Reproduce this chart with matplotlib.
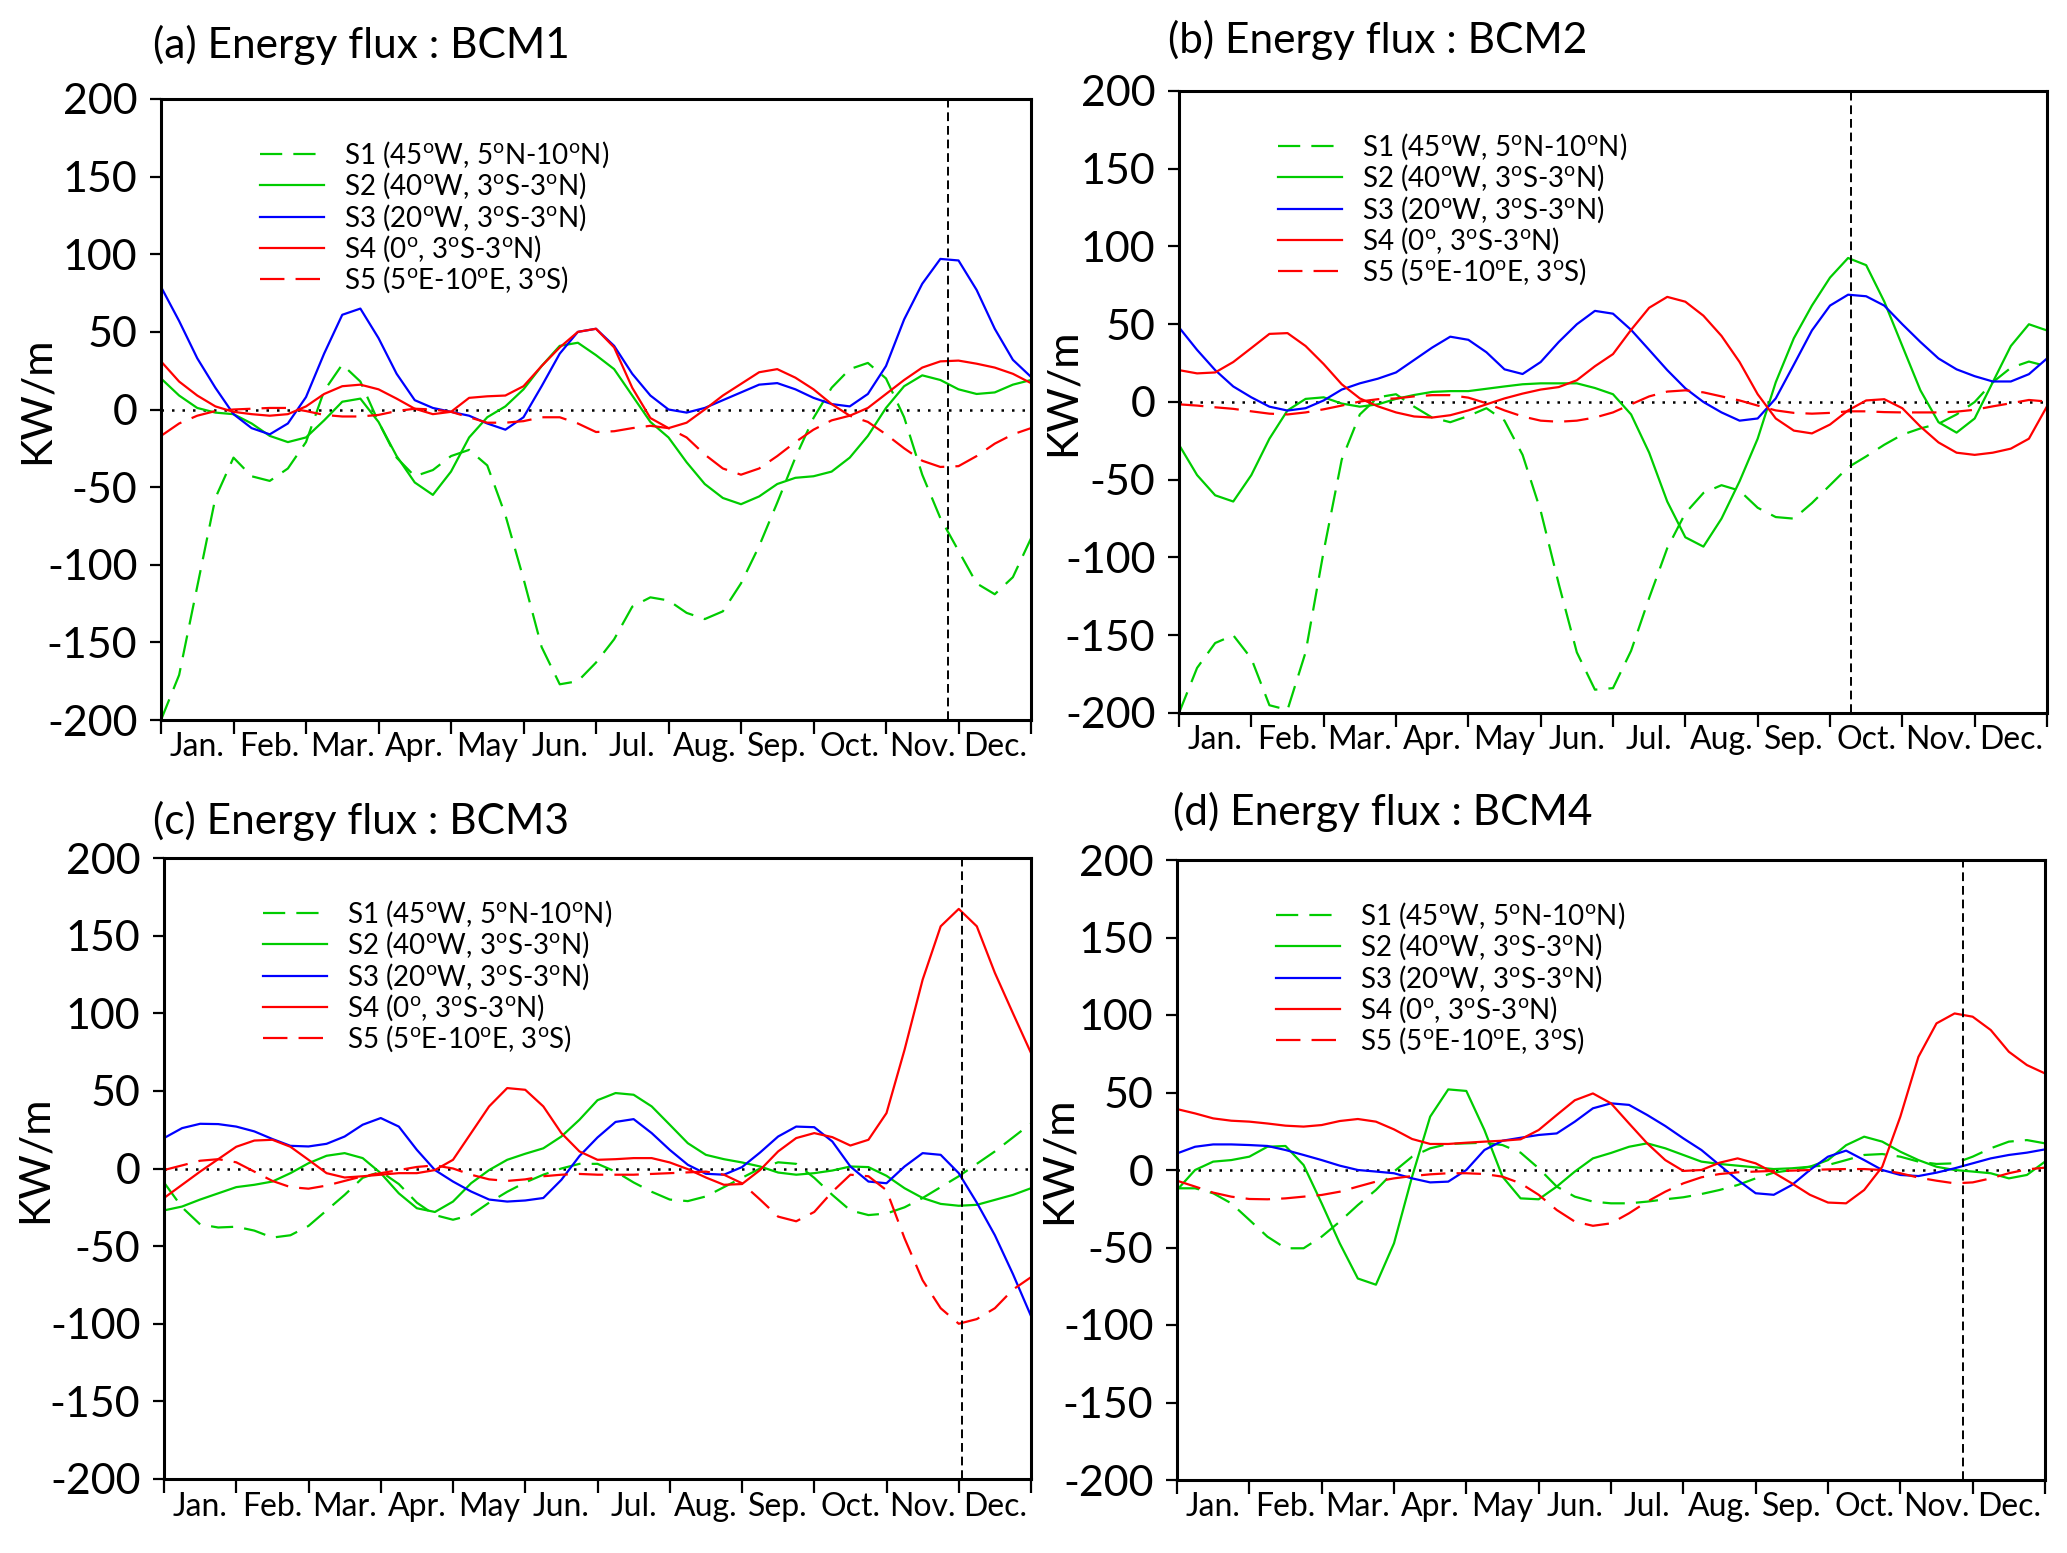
import numpy as np
import matplotlib
matplotlib.use('Agg')
import matplotlib.pyplot as plt

plt.rcParams['font.family'] = ['Lato', 'DejaVu Sans']
plt.rcParams['mathtext.fontset'] = 'custom'
plt.rcParams['mathtext.rm'] = 'Lato'
plt.rcParams['mathtext.it'] = 'Lato:italic'
plt.rcParams['mathtext.bf'] = 'Lato:bold'

# ---------------- data ----------------
months = ['Jan.', 'Feb.', 'Mar.', 'Apr.', 'May', 'Jun.', 'Jul.', 'Aug.',
          'Sep.', 'Oct.', 'Nov.', 'Dec.']
t = np.arange(49) * 0.25          # time in months (0 = 1 Jan, 12 = 31 Dec)
yticks = [-200, -150, -100, -50, 0, 50, 100, 150, 200]

labels = [r'S1 (45$^{\rm o}$W, 5$^{\rm o}$N-10$^{\rm o}$N)',
          r'S2 (40$^{\rm o}$W, 3$^{\rm o}$S-3$^{\rm o}$N)',
          r'S3 (20$^{\rm o}$W, 3$^{\rm o}$S-3$^{\rm o}$N)',
          r'S4 (0$^{\rm o}$, 3$^{\rm o}$S-3$^{\rm o}$N)',
          r'S5 (5$^{\rm o}$E-10$^{\rm o}$E, 3$^{\rm o}$S)']

titles = ['(a) Energy flux : BCM1', '(b) Energy flux : BCM2',
          '(c) Energy flux : BCM3', '(d) Energy flux : BCM4']
event_month = [10.86, 9.29, 11.04, 10.86]

# Panel (a) BCM1
a_s1 = [-200, -171, -114, -57, -31, -43, -46, -38, -21, 12,
        29, 18, -8, -31, -43, -39, -30, -26, -36, -68,
        -109, -153, -177, -175, -163, -148, -127, -121, -123, -131,
        -135, -130, -112, -88, -60, -31, -5.5, 14, 26, 30,
        20, -5, -42, -70, -91, -112, -119, -108, -83]
a_s2 = [20, 9, 1, -2, -3, -9, -17, -21, -18, -7,
        5, 7, -8, -30, -47, -55, -40, -18, -5, 2,
        13, 28, 41, 43, 35, 26, 9, -8, -18, -34,
        -48, -57, -61, -56, -48, -44, -43, -40, -31, -17,
        1, 15, 22, 19, 13, 10, 11, 16, 19]
a_s3 = [79, 57, 33, 14, -3, -12, -16, -9, 8, 36,
        61, 65, 46, 23, 6, 1, -1.5, -4, -9, -13,
        -5, 15, 36, 50, 52, 41, 23, 9, 0, -2,
        1, 6, 11, 16, 17, 13, 7.5, 3.5, 2, 10,
        28, 58, 81, 97, 96, 77, 52, 32, 21]
a_s4 = [31, 18, 9, 2, -1.5, -3, -4, -3, 2, 10,
        15, 16, 13, 7, 0.5, -3, -1.5, 7.5, 8.5, 9,
        15, 28, 40, 50, 52, 40, 14, -5.5, -12, -8.5,
        0, 9, 16.5, 24, 26, 20.5, 13, 3.5, -4, 1,
        10, 19, 27, 31, 31.5, 29.5, 27, 23, 17]
a_s5 = [-17, -9, -4, -1, 0, 0.5, 1, 1, -1, -3.5,
        -4.5, -4.5, -3.5, -1, 0.5, 0, -1.5, -5, -8.5, -8.5,
        -7.5, -5, -5, -9, -14.5, -14, -12, -10.5, -12, -18,
        -29, -38, -42, -38, -30, -21, -13, -7, -4, -8,
        -16, -25, -33, -37, -36.5, -30, -22, -16, -12]

# Panel (b) BCM2
b_s1 = [-200, -171, -155, -150, -165, -195, -198, -161, -96, -37,
        -8, 3, 5, -3, -10, -13, -9, -4, -12, -34,
        -70, -117, -161, -185, -184, -160, -126, -94, -71.5, -58.5,
        -53.5, -57, -68, -74, -75, -65, -53.5, -42, -35, -27.5,
        -21, -17, -14, -8, 0, 12.7, 22, 26, 23]
b_s2 = [-27.5, -47, -60, -64, -47, -23.6, -5.4, 2, 3, -1,
        -3, -1.5, 2, 4.5, 6.5, 7, 7, 8.5, 10, 11.4,
        12, 12, 12, 9, 5, -8, -32.6, -64, -87, -93,
        -75, -51, -23.6, 12.7, 41, 62, 80, 92.6, 88, 64.6,
        36, 7.5, -13, -19.7, -10.6, 12.7, 36, 50, 46]
b_s3 = [48, 33.5, 20.5, 10, 3, -3, -5.5, -4, 1, 8,
        12, 15, 19, 27, 35, 42, 40, 32, 21, 18,
        25.7, 38.6, 50, 58.6, 56.8, 46.4, 33.5, 20.5, 8.8, 0,
        -6.7, -12, -10.6, 2.3, 24, 46, 62, 69, 68, 62,
        50, 38.6, 28, 21, 16.6, 13.2, 13.2, 17.9, 28]
b_s4 = [20.5, 18.4, 19, 25.7, 34.7, 43.8, 44.3, 36, 24.4, 11.4,
        2.3, -2.8, -6.7, -9.3, -10, -8.5, -5.4, -1.5, 2.3, 5.4,
        8, 9.6, 14, 23, 30.8, 46.4, 60.6, 67.6, 64.5, 55.5,
        42.5, 25.7, 5, -10.6, -18.4, -20.2, -14.5, -5.4, 1, 1.8,
        -4, -15.8, -26, -32.6, -34, -32.6, -30, -23.6, -2.8]
b_s5 = [-1.5, -2.3, -3.4, -4.4, -6, -7.5, -8, -6.7, -4.7, -2.3,
        0.3, 1.8, 2.3, 3.6, 4.4, 4.4, 2.8, -0.8, -5.4, -9.3,
        -12, -12.7, -12, -10, -6.7, -1.5, 3.6, 6.7, 7.5, 6.2,
        3.6, 1, -2.3, -5.4, -7, -7.5, -7, -6, -6, -6.5,
        -6.7, -6.7, -6.7, -6.2, -5, -2.8, -0.8, 1.3, 0.3]

# Panel (c) BCM3
c_s1 = [-9, -25, -36, -38, -37.5, -40, -44.5, -43, -37, -27,
        -17, -6, -2, -10, -22, -30, -33, -30, -22, -15,
        -9, -4, 0, 3, 3, -2, -9, -15, -20, -21,
        -18, -12, -6, 0, 4, 3, -6, -17, -27, -30,
        -29, -25, -19, -12, -5, 3, 11, 20, 29]
c_s2 = [-27, -24.5, -20, -16, -12, -10.5, -8.4, -3, 3.4, 8.2,
        9.9, 6.7, -3, -16, -25.6, -28, -21.3, -9.5, -1, 5.6,
        9.5, 13, 20.6, 31.4, 44, 48.6, 47.5, 40, 28.2, 16.3,
        8.8, 6, 3.9, 1.3, -2.6, -4, -3, -1.3, 1.3, 0.9,
        -4.7, -12.7, -19, -22.8, -24, -23.4, -20.2, -17, -12.7]
c_s3 = [19.6, 26, 28.8, 28.6, 27, 23.9, 19, 14.6, 14.2, 15.9,
        20.6, 28.2, 32.5, 27, 12, -1, -8.4, -14.8, -20, -21.3,
        -20.6, -19, -7.3, 8, 20, 30, 31.8, 22.8, 12, 2.4,
        -3.4, -4, 0.9, 10.3, 20.6, 27, 26.6, 17.4, 1.3, -8.4,
        -9.5, 1.3, 9.9, 8.8, -3, -22, -43, -68, -95]
c_s4 = [-19, -10.5, -2, 6, 14, 18, 18.5, 14, 5.6, -3,
        -5.8, -5, -4, -3, -3, -1, 5.6, 22.8, 40, 51.8,
        50.7, 40, 22.8, 11, 5.6, 6, 6.7, 6.7, 3.9, -0.4,
        -5.8, -10.5, -10, -1, 11, 19.6, 22.8, 20.2, 14.8, 18.5,
        35.7, 76.5, 121.6, 156, 167.2, 156, 126, 100, 74.4]
c_s5 = [-1, 2, 5, 6, 4, -2, -8, -12, -13, -11,
        -8, -5, -3, -1, 1, 2, 0, -4, -7, -8,
        -7, -5, -4, -3.5, -4, -4, -4, -3.5, -3, -2.5,
        -2, -4, -9.5, -20, -31, -34, -28, -15, -4, -5,
        -14, -45, -72, -90, -100, -97, -90, -78, -70]

# Panel (d) BCM4
d_s1 = [-11.8, -11.8, -15, -21.5, -32.2, -43, -50.5, -50.5, -43, -33.3,
        -22.6, -12.9, -1, 8.6, 14, 16.8, 17.2, 17.6, 16.1, 11.2,
        1.1, -10.7, -17.2, -20.4, -21.5, -21.5, -20.4, -18.9, -17.6, -15.5,
        -12.9, -9.7, -5.4, -1.7, 0, 2.1, 3.2, 6.4, 9.7, 10.3,
        8.6, 5.4, 3.9, 4.3, 8.6, 14, 18.3, 19.3, 17.2]
d_s2 = [-12.9, 0, 5.4, 6.4, 8.6, 15, 15.5, 3.2, -21.5, -47.3,
        -70, -74, -47.3, -4.3, 34.4, 52, 51, 25.8, -4.3, -18.3,
        -18.9, -10.7, -1, 7.5, 11, 15, 17.2, 14, 9.7, 5.4,
        3.9, 2.8, 1.7, 0.6, 1.1, 2.1, 6.4, 16, 21.5, 18.3,
        11.8, 6.4, 2.1, 0, -1, -2.1, -5.4, -3.2, 5.4]
d_s3 = [10.7, 15, 16.5, 16.5, 16.1, 15.5, 12.9, 9.7, 6.4, 2.8,
        0, -1, -2.1, -5.4, -8, -7.5, 0, 12.9, 18.9, 20.8,
        22.6, 23.6, 31.2, 39.8, 43, 42, 35.5, 28.4, 20.4, 12.9,
        3.2, -6.4, -15, -16, -9.7, 0, 8.6, 12.5, 6.4, 0,
        -3.2, -3.9, -1.7, 1.1, 4.3, 7.5, 9.7, 11.2, 13.3]
d_s4 = [39.3, 36.5, 33.3, 31.8, 31.2, 30, 28.6, 28, 29, 31.6,
        32.9, 31.2, 26.2, 20, 16.8, 16.8, 17.6, 18.3, 18.9, 19.8,
        25.8, 35.5, 45, 49.4, 43, 30, 17.2, 6.4, -0.6, 0,
        4.7, 7.5, 4.3, -1.7, -8.6, -16, -21, -21.5, -12.9, 2.1,
        34.4, 73, 94.6, 101, 98.9, 90.3, 76.3, 67.7, 62.3]
d_s5 = [-6.9, -10.7, -14.6, -17.2, -18.7, -18.9, -18.3, -17.2, -16.1, -14,
        -10.7, -7.5, -5.4, -3.9, -2.8, -2.1, -2.1, -2.6, -4.3, -8.6,
        -16, -25.8, -33.3, -36, -34.4, -27.9, -20.4, -14, -8.6, -4.7,
        -2.6, -1.5, -1, -0.6, -0.4, 0, 0.4, 0.6, 0.6, 0,
        -2.1, -4.9, -6.9, -8.6, -8, -5.4, -2.1, 0.4, 1.5]

panels = [[a_s1, a_s2, a_s3, a_s4, a_s5],
          [b_s1, b_s2, b_s3, b_s4, b_s5],
          [c_s1, c_s2, c_s3, c_s4, c_s5],
          [d_s1, d_s2, d_s3, d_s4, d_s5]]

# ---------------- styles ----------------
GREEN = '#00cc00'
BLUE = '#0000ff'
RED = '#ff0000'
styles = [dict(color=GREEN, ls=(0, (10, 5))),
          dict(color=GREEN, ls='-'),
          dict(color=BLUE, ls='-'),
          dict(color=RED, ls='-'),
          dict(color=RED, ls=(0, (11, 5)))]

W, H = 2067, 1553
fig = plt.figure(figsize=(W / 100, H / 100), dpi=100)

# axes boxes in pixels: left, right, top, bottom
boxes = [(161, 1031, 99, 720),
         (1179, 2047, 91, 713),
         (164, 1031, 858, 1479),
         (1177, 2045, 860, 1480)]
title_pos = [(153, 58), (1168, 53.5), (153, 834), (1173, 825)]
ylabel_x = [37, 1063, 35, 1059]

for k in range(4):
    l, r, tp, bt = boxes[k]
    ax = fig.add_axes([l / W, (H - bt) / H, (r - l) / W, (bt - tp) / H])
    for s in range(5):
        ax.plot(t, panels[k][s], lw=1.6, label=labels[s], **styles[s])
    ax.axhline(0, color='k', ls=(0, (1, 3.2)), lw=1.8, zorder=1)
    ax.axvline(event_month[k], color='k', ls=(0, (4.5, 2.5)), lw=1.4)
    ax.set_xlim(0, 12)
    ax.set_ylim(-200, 200)
    ax.set_yticks(yticks)
    ax.set_yticklabels([str(v) for v in yticks])
    ax.set_xticks(np.arange(0, 13))
    ax.set_xticklabels([])
    ax.set_xticks(np.arange(12) + 0.5, minor=True)
    ax.set_xticklabels(months, minor=True)
    ax.tick_params(axis='x', which='major', direction='out', length=10, width=1.6)
    ax.tick_params(axis='x', which='minor', length=0, labelsize=23, pad=9)
    ax.tick_params(axis='y', direction='out', length=8, width=1.6,
                   labelsize=31, pad=9)
    for sp in ax.spines.values():
        sp.set_linewidth(2.2)
    ax.set_ylabel('KW/m', fontsize=31)
    ax.yaxis.label.set_va('center')
    ax.yaxis.set_label_coords((ylabel_x[k] - l) / (r - l), 0.515)
    ax.legend(loc='upper left', bbox_to_anchor=(0.114, 0.935), frameon=False,
              fontsize=20, handlelength=2.3, handletextpad=0.72,
              labelspacing=0.03, borderaxespad=0, borderpad=0)
    fig.text(title_pos[k][0] / W, (H - title_pos[k][1]) / H, titles[k],
             fontsize=30.5, va='baseline', ha='left')

fig.savefig('out.png', dpi=100)
